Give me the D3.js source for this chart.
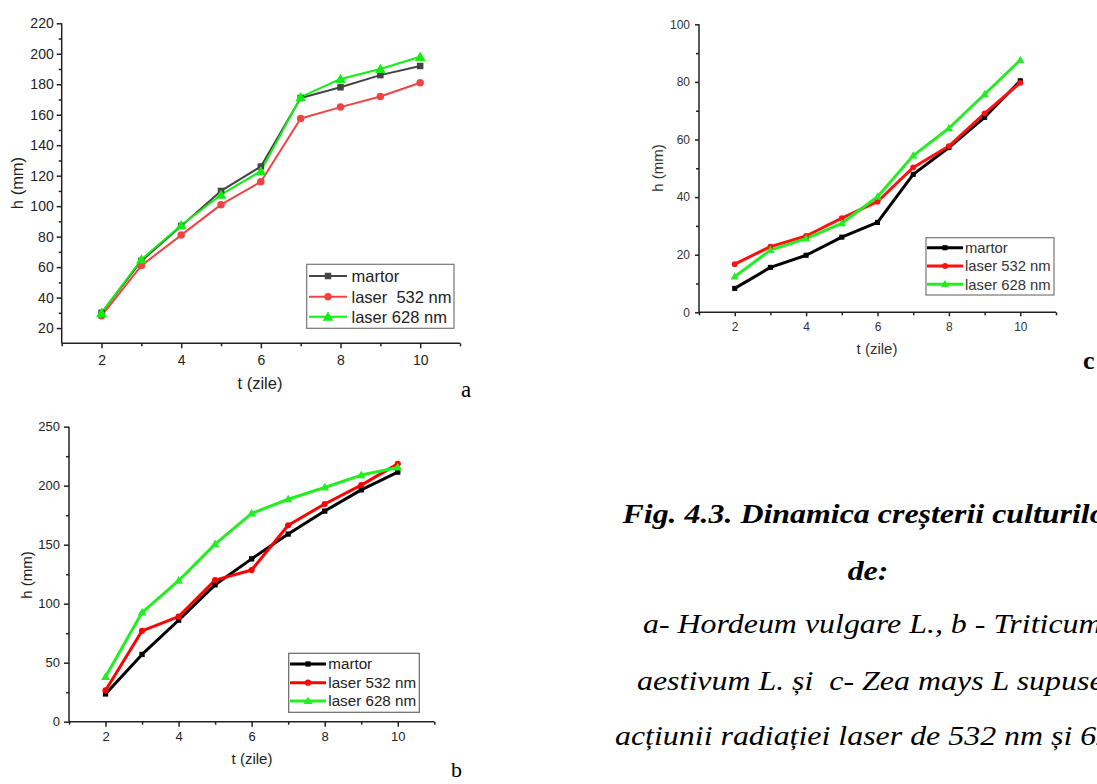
<!DOCTYPE html>
<html>
<head>
<meta charset="utf-8">
<script src="https://cdn.jsdelivr.net/npm/d3@7"></script>
<style>
  html, body { margin: 0; padding: 0; background: #fff; }
  svg { display: block; overflow: hidden; }
</style>
</head>
<body>
<svg id="chart" width="1097" height="784"></svg>
<script>
// ---------- DATA ----------
const days = [2, 3, 4, 5, 6, 7, 8, 9, 10];
const seriesNames = ["martor", "laser 532 nm", "laser 628 nm"];
const seriesNamesA = ["martor", "laser  532 nm", "laser 628 nm"];

// Panel a - Hordeum vulgare L.
const aMartor = [30, 64, 87, 110, 126, 171, 178, 186, 192];
const a532 = [28, 61, 81, 101, 116, 157.5, 165, 172, 181];
const a628 = [30, 65, 87.5, 107.5, 123, 171.5, 183.5, 190, 198];

// Panel b - Triticum aestivum L.
const bMartor = [23.5, 57, 86, 116, 138, 159, 178.5, 196.5, 211.5];
const b532 = [26.5, 77, 89, 120, 128.5, 166.5, 184.5, 200.5, 218.5];
const b628 = [38, 92.5, 119.5, 150.5, 176.5, 188.5, 198.5, 209, 215.5];

// Panel c - Zea mays L
const cMartor = [8.3, 15.6, 19.8, 26.1, 31.2, 47.9, 57.2, 67.7, 80.4];
const c532 = [16.7, 22.8, 26.5, 32.7, 38.4, 50.3, 57.7, 69.1, 79.7];
const c628 = [12.4, 21.6, 25.6, 30.9, 40.1, 54.4, 63.9, 75.7, 87.6];

// Tick labels
const xTicksMajor = [2, 4, 6, 8, 10];
const xTicksMinor = [1, 3, 5, 7, 9, 11];
const aYTicks = [20, 40, 60, 80, 100, 120, 140, 160, 180, 200, 220];
const aYMinor = [30, 50, 70, 90, 110, 130, 150, 170, 190, 210];
const bYTicks = [0, 50, 100, 150, 200, 250];
const bYMinor = [25, 75, 125, 175, 225];
const cYTicks = [0, 20, 40, 60, 80, 100];
const cYMinor = [10, 30, 50, 70, 90];

const xLabel = "t (zile)";
const yLabel = "h (mm)";

const captionLines = [
  "Fig. 4.3. Dinamica creșterii culturilor",
  "de:",
  "a- Hordeum vulgare L., b - Triticum",
  "aestivum L. și  c- Zea mays L supuse",
  "acțiunii radiației laser de 532 nm și 628 nm"
];

// ---------- DRAW ----------
const svg = d3.select("#chart");
const SANS = "'Liberation Sans', Arial, sans-serif";
const SERIF = "'Liberation Serif', 'Times New Roman', serif";

function panel(cfg) {
  const g = svg.append("g");
  const x = d3.scaleLinear().domain([1, 11]).range([cfg.left, cfg.right]);
  const y = d3.scaleLinear().domain(cfg.yDomain).range([cfg.bottom, cfg.top]);

  const xAxis = d3.axisBottom(x).tickValues(xTicksMajor).tickSize(cfg.tickMajor).tickPadding(cfg.xPad).tickFormat(d3.format("d"));
  const yAxis = d3.axisLeft(y).tickValues(cfg.yTicks).tickSize(cfg.tickMajor).tickPadding(cfg.yPad).tickFormat(d3.format("d"));
  const gx = g.append("g").attr("transform", `translate(0,${cfg.bottom})`).call(xAxis);
  const gy = g.append("g").attr("transform", `translate(${cfg.left},0)`).call(yAxis);
  g.append("g").attr("transform", `translate(0,${cfg.bottom})`)
    .call(d3.axisBottom(x).tickValues(xTicksMinor).tickSize(cfg.tickMinor).tickFormat(""))
    .select(".domain").remove();
  g.append("g").attr("transform", `translate(${cfg.left},0)`)
    .call(d3.axisLeft(y).tickValues(cfg.yMinor).tickSize(cfg.tickMinor).tickFormat(""))
    .select(".domain").remove();

  g.selectAll(".domain").attr("stroke", cfg.axisColor).attr("stroke-width", cfg.axisWidth);
  g.selectAll(".tick line").attr("stroke", cfg.axisColor).attr("stroke-width", cfg.axisWidth);
  gx.select(".domain").attr("d", `M${cfg.left},0H${cfg.right}`);
  gy.select(".domain").attr("d", `M0,${cfg.bottom}V${cfg.top}`);

  g.selectAll(".tick text")
    .attr("font-family", SANS).attr("font-size", cfg.tickFont).attr("fill", cfg.textColor);

  g.append("text").attr("x", cfg.xLabelX).attr("y", cfg.xLabelY)
    .attr("text-anchor", "middle").attr("font-family", SANS).attr("font-size", cfg.labelFont)
    .attr("fill", cfg.textColor).text(xLabel);
  g.append("text").attr("transform", `translate(${cfg.yLabelX},${cfg.yLabelY}) rotate(-90)`)
    .attr("text-anchor", "middle").attr("font-family", SANS).attr("font-size", cfg.labelFont)
    .attr("fill", cfg.textColor).text(yLabel);

  const line = d3.line().x((d, i) => x(days[i])).y(d => y(d));
  const symTypes = [d3.symbolSquare, d3.symbolCircle, d3.symbolTriangle];
  cfg.series.forEach((vals, si) => {
    g.append("path").datum(vals).attr("d", line)
      .attr("fill", "none").attr("stroke", cfg.colors[si]).attr("stroke-width", cfg.lineWidth)
      .attr("stroke-linejoin", "round");
  });
  cfg.series.forEach((vals, si) => {
    const sym = d3.symbol().type(symTypes[si]).size(cfg.symSizes[si]);
    g.selectAll(null).data(vals).enter().append("path")
      .attr("d", sym)
      .attr("transform", (d, i) => `translate(${x(days[i])},${y(d) + (si === 2 ? cfg.triOffset : 0)})`)
      .attr("fill", cfg.colors[si]);
  });

  const L = cfg.legend;
  g.append("rect").attr("x", L.x0).attr("y", L.y0).attr("width", L.x1 - L.x0).attr("height", L.y1 - L.y0)
    .attr("fill", "#fff").attr("stroke", L.stroke).attr("stroke-width", 1.2);
  cfg.names.forEach((name, si) => {
    const yy = L.rows[si];
    g.append("line").attr("x1", L.lx0).attr("x2", L.lx1).attr("y1", yy).attr("y2", yy)
      .attr("stroke", cfg.colors[si]).attr("stroke-width", cfg.lineWidth);
    const sym = d3.symbol().type(symTypes[si]).size(cfg.symSizes[si]);
    g.append("path").attr("d", sym)
      .attr("transform", `translate(${(L.lx0 + L.lx1) / 2},${yy + (si === 2 ? cfg.triOffset : 0)})`)
      .attr("fill", cfg.colors[si]);
    g.append("text").attr("x", L.tx).attr("y", yy).attr("dy", "0.36em")
      .attr("font-family", SANS).attr("font-size", L.font).attr("fill", cfg.textColor)
      .attr("xml:space", "preserve").style("white-space", "pre").text(name);
  });
}

// Panel a
panel({
  left: 61.7, right: 460, top: 23.3, bottom: 343.3, yDomain: [10, 220],
  yTicks: aYTicks, yMinor: aYMinor, tickMajor: 5, tickMinor: 3, xPad: 6.5, yPad: 3,
  axisColor: "#222", axisWidth: 1.5, textColor: "#222", tickFont: 14, labelFont: 16.5,
  xLabelX: 260, xLabelY: 389, yLabelX: 23, yLabelY: 183,
  colors: ["#444444", "#ee4444", "#11ee11"], lineWidth: 2, symSizes: [42, 44, 50], triOffset: 1,
  series: [aMartor, a532, a628], names: seriesNamesA,
  legend: { x0: 306.7, x1: 454, y0: 264.3, y1: 328.3, rows: [276, 296.7, 316.7], lx0: 309, lx1: 347, tx: 351.5, font: 16.5, stroke: "#777" }
});

// Panel b
panel({
  left: 69, right: 434.3, top: 426.7, bottom: 721.7, yDomain: [0, 250],
  yTicks: bYTicks, yMinor: bYMinor, tickMajor: 5, tickMinor: 3, xPad: 5.5, yPad: 4,
  axisColor: "#222", axisWidth: 1.5, textColor: "#222", tickFont: 13, labelFont: 15,
  xLabelX: 252, xLabelY: 764, yLabelX: 32, yLabelY: 575,
  colors: ["#000000", "#ff0000", "#22ee22"], lineWidth: 3, symSizes: [28, 30, 34], triOffset: 0.5,
  series: [bMartor, b532, b628], names: seriesNames,
  legend: { x0: 288.7, x1: 419.3, y0: 653.3, y1: 712.3, rows: [664, 682.7, 701], lx0: 290, lx1: 326, tx: 328.3, font: 15.2, stroke: "#666" }
});

// Panel c
panel({
  left: 699, right: 1056, top: 24.3, bottom: 312.3, yDomain: [0, 100],
  yTicks: cYTicks, yMinor: cYMinor, tickMajor: 4, tickMinor: 3, xPad: 6, yPad: 5,
  axisColor: "#222", axisWidth: 1.5, textColor: "#333", tickFont: 12, labelFont: 15,
  xLabelX: 877, xLabelY: 354, yLabelX: 663, yLabelY: 168,
  colors: ["#000000", "#ff1111", "#22ee22"], lineWidth: 3, symSizes: [26, 26, 30], triOffset: 0.5,
  series: [cMartor, c532, c628], names: seriesNames,
  legend: { x0: 926, x1: 1054, y0: 237.7, y1: 295, rows: [247.7, 266, 284.3], lx0: 927, lx1: 963, tx: 965, font: 14.8, stroke: "#777" }
});

// panel letters
svg.append("text").attr("x", 461).attr("y", 397).attr("font-family", SERIF).attr("font-size", 23).attr("fill", "#000").text("a");
svg.append("text").attr("x", 451).attr("y", 777).attr("font-family", SERIF).attr("font-size", 22).attr("fill", "#000").text("b");
svg.append("text").attr("x", 1083).attr("y", 369).attr("font-family", SERIF).attr("font-weight", "bold").attr("font-size", 26).attr("fill", "#000").text("c");

// caption
const capFont = 28;
const capScaleX = 1.14;
const capSpecs = [
  { x: 622.5, y: 523, bold: true, anchor: "start" },
  { x: 868, y: 580, bold: true, anchor: "middle" },
  { x: 643, y: 633, bold: false, anchor: "start" },
  { x: 637, y: 690, bold: false, anchor: "start" },
  { x: 615, y: 745, bold: false, anchor: "start" }
];
captionLines.forEach((t, i) => {
  const s = capSpecs[i];
  svg.append("text").attr("transform", `translate(${s.x},${s.y}) scale(${capScaleX},1)`)
    .attr("text-anchor", s.anchor)
    .attr("font-family", SERIF).attr("font-style", "italic")
    .attr("font-weight", s.bold ? "bold" : "normal")
    .attr("font-size", capFont).attr("fill", "#000")
    .attr("xml:space", "preserve").style("white-space", "pre").text(t);
});
</script>
</body>
</html>
